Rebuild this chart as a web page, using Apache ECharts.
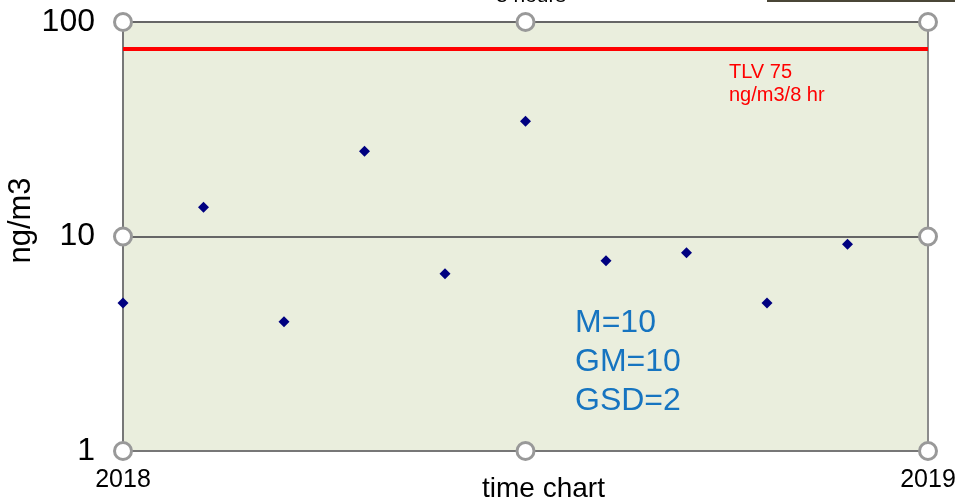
<!DOCTYPE html>
<html><head><meta charset="utf-8">
<script src="https://cdn.jsdelivr.net/npm/echarts@6/dist/echarts.min.js"></script>
<style>html,body{margin:0;padding:0;background:#fff}#c{width:955px;height:501px}</style>
</head><body><div id="c"></div>
<script>
var xValues = [2018.0, 2018.1, 2018.2, 2018.3, 2018.4, 2018.5, 2018.6, 2018.7, 2018.8, 2018.9];
var yValues = [4.9, 13.7, 4.0, 25.0, 6.7, 34.5, 7.7, 8.4, 4.9, 9.2];
var tlvValue = 75;
var xTicks = [2018, 2019];
var yTicks = [1, 10, 100];
var handleX = [2018, 2018.5, 2019];
var handleY = [1, 10, 100];

var points = xValues.map(function (x, i) { return [x, yValues[i]]; });
var handles = [];
handleX.forEach(function (x) { handleY.forEach(function (y) {
  if (!(x === 2018.5 && y === 10)) handles.push([x, y]);
}); });

var font = '"Liberation Sans", Arial, sans-serif';
var chart = echarts.init(document.getElementById('c'), null, {renderer: 'canvas'});
chart.setOption({
  animation: false,
  backgroundColor: '#ffffff',
  title: {text: '8 hours', left: 491, top: -19, textStyle: {fontFamily: font, fontSize: 21, fontWeight: 'normal', color: '#000'}},
  grid: {left: 123, right: 27, top: 22, bottom: 50, containLabel: false, outerBoundsMode: 'none',
    show: true, backgroundColor: '#eaeedd', borderColor: '#8c8c8c', borderWidth: 2},
  xAxis: {
    type: 'value', min: xTicks[0], max: xTicks[1], interval: 1,
    name: 'time chart', nameLocation: 'middle', nameGap: 24, nameMoveOverlap: false,
    nameTextStyle: {fontFamily: font, fontSize: 28, color: '#000', padding: [0, 0, 0, 36]},
    axisLine: {show: true, lineStyle: {color: '#777', width: 2}},
    axisTick: {show: false}, splitLine: {show: false},
    axisLabel: {margin: 17, fontFamily: font, fontSize: 25, color: '#000', formatter: function (v) { return String(v); }}
  },
  yAxis: {
    type: 'log', logBase: 10, min: yTicks[0], max: yTicks[2],
    name: 'ng/m3', nameLocation: 'middle', nameGap: 86, nameMoveOverlap: false,
    nameTextStyle: {fontFamily: font, fontSize: 31, color: '#000', padding: [0, 0, 0, 32]},
    axisLine: {show: true, lineStyle: {color: '#777', width: 2}},
    axisTick: {show: false}, minorTick: {show: false},
    splitLine: {show: true, lineStyle: {color: '#666', width: 2}},
    axisLabel: {margin: 28, fontFamily: font, fontSize: 32, color: '#000'}
  },
  series: [
    {
      type: 'scatter', data: points, symbol: 'diamond', symbolSize: 11,
      itemStyle: {color: '#000080', opacity: 1}, z: 3,
      markLine: {
        silent: true, symbol: 'none', label: {show: false},
        lineStyle: {color: '#ff0000', width: 4, type: 'solid', opacity: 1},
        data: [{yAxis: tlvValue}]
      }
    },
    {
      type: 'scatter', data: handles, symbol: 'circle', symbolSize: 17, clip: false, silent: true,
      itemStyle: {color: '#ffffff', borderColor: '#999999', borderWidth: 3, opacity: 1}, z: 5
    }
  ],
  graphic: [
    {type: 'rect', shape: {x: 767, y: 0, width: 188, height: 2}, style: {fill: '#4a4636'}},
    {type: 'text', left: 729, top: 61, style: {text: 'TLV 75\nng/m3/8 hr', fill: '#ff0000', font: '20px ' + font, lineHeight: 23}},
    {type: 'text', left: 575, top: 304, style: {text: 'M=10\nGM=10\nGSD=2', fill: '#1674c0', font: '32px ' + font, lineHeight: 39}}
  ]
});
</script></body></html>
